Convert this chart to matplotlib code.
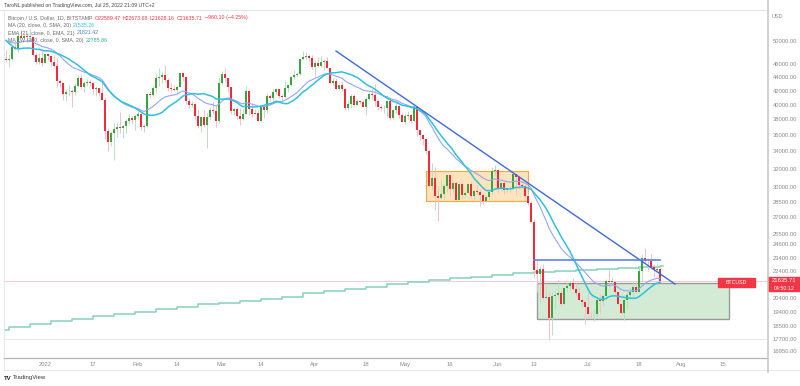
import numpy as np
import pandas as pd
import matplotlib
matplotlib.use("Agg")
import matplotlib.pyplot as plt
from matplotlib.patches import Rectangle
from matplotlib.lines import Line2D

W, H = 800, 386

# closes before the visible range, only used to warm up the averages (19 Nov - 18 Dec 2021)
warmup_close = [58100, 59700, 58700, 56300, 57600, 57200, 58950, 53700, 54750, 57300, 57800, 56950,
                57200, 56500, 53600, 49200, 49400, 50550, 50600, 50500, 47650, 47150, 49400, 50100,
                46750, 48350, 48870, 47650, 46200, 46850]

# daily BTCUSD, 19 Dec 2021 - 25 Jul 2022
close = [
    # Dec
    46700, 46900, 48950, 48600, 50800, 50430, 50800, 50700, 50700, 47540, 46460, 47120, 46210,
    # Jan
    47740, 47300, 46450, 45830, 43430, 43080, 41560, 41730, 41860, 41820, 42740, 43920, 42590, 43100,
    43180, 43110, 42250, 42380, 41690, 40700, 36480, 35080, 36280, 36680, 36970, 36850, 37150, 37720,
    38180, 37920, 38500,
    # Feb
    38740, 36950, 37080, 41570, 41410, 42410, 43840, 44100, 44340, 43570, 42410, 42220, 42060, 42570,
    44580, 43960, 40550, 40000, 40120, 38430, 37070, 38290, 37270, 38330, 39240, 39150, 37710, 43190,
    # Mar
    44420, 43940, 42460, 39140, 39400, 38420, 37990, 38730, 41980, 39440, 38730, 38810, 37790, 39670,
    39280, 41140, 40950, 41800, 42190, 41250, 41080, 42360, 42890, 43960, 44350, 44500, 46820, 47130,
    47430, 47070, 45530,
    # Apr
    46280, 45820, 46400, 46580, 45500, 43170, 43440, 42250, 42750, 42160, 39530, 40090, 41150, 39940,
    40550, 40390, 39700, 40820, 41500, 41370, 40530, 39720, 39460, 39470, 40430, 38110, 39240, 39750,
    38600, 37650,
    # May
    38470, 38530, 37730, 39690, 36550, 36030, 35470, 34060, 30080, 31010, 29080, 28930, 29280, 30100,
    31300, 29850, 30430, 28710, 30310, 29200, 29440, 30290, 29100, 29650, 29540, 29200, 28630, 29020,
    29460, 31730, 31790,
    # Jun
    29800, 30450, 29700, 29860, 29900, 31360, 31130, 30200, 30100, 29090, 28390, 26560, 22490, 22140,
    22580, 20380, 20470, 19000, 20560, 20580, 20720, 19970, 21100, 21230, 21490, 21030, 20740, 20280,
    20100, 19780,
    # Jul
    19300, 19250, 19300, 20230, 20190, 20560, 21630, 21590, 21590, 20840, 19960, 19330, 20230, 20580,
    20830, 21190, 20790, 22430, 23400, 23230, 23160, 22680, 22460, 22589.47, 21635.71,
]
high = [
    48300, 47500, 49300, 49550, 51350, 51800, 51150, 51250, 52050, 50700, 48100, 47900, 48550,
    47900, 47950, 47550, 47500, 47050, 43750, 43150, 42300, 42800, 42250, 43100, 44350, 44450, 43450,
    43800, 43500, 43200, 42700, 42550, 43500, 41100, 36800, 36500, 37500, 37550, 38950, 37250, 38000,
    38700, 38400, 38750,
    39250, 38850, 37400, 41700, 41950, 42650, 44500, 45500, 44800, 45850, 43950, 43050, 42750, 42850,
    44700, 44600, 44200, 40950, 40450, 40150, 39450, 38400, 39200, 38900, 39700, 40300, 39850, 44050,
    44950, 45400, 44100, 42550, 39650, 39650, 39550, 39400, 42600, 42000, 40150, 39450, 39300, 39900,
    39850, 41700, 41450, 42300, 42350, 42300, 41550, 43350, 43000, 44200, 45100, 44800, 46950, 48150,
    48100, 47700, 47600,
    46700, 47200, 47450, 46850, 47150, 45500, 43900, 43950, 42800, 43400, 42400, 40700, 41550, 41500,
    40850, 40700, 40600, 41100, 41750, 42200, 42950, 40800, 39950, 39900, 40600, 40800, 39450, 40350,
    39950, 38800,
    38650, 39150, 38650, 39950, 39800, 36650, 36100, 35500, 34300, 32650, 32150, 30100, 30900, 30300,
    31450, 31300, 30800, 30650, 30550, 30750, 29600, 30450, 30650, 29850, 30200, 29850, 29400, 29200,
    29550, 32200, 32350,
    31950, 30650, 30650, 29950, 30150, 31750, 31550, 31300, 30700, 30350, 29450, 28550, 26850, 23300,
    22800, 22950, 21350, 20800, 20800, 21000, 21700, 20900, 21200, 21500, 21550, 21850, 21500, 21200,
    20400, 20150,
    20850, 19400, 19650, 20300, 20700, 20650, 21800, 22500, 21950, 21600, 20850, 20050, 20300, 20850,
    21200, 21550, 21650, 22700, 23750, 24280, 23400, 23750, 22950, 23000, 22673.68,
]
low = [
    46400, 45600, 46650, 48450, 48100, 50400, 50200, 49950, 50450, 47350, 46100, 46000, 45680,
    46200, 46700, 45700, 45520, 42500, 42450, 40650, 40550, 41250, 39650, 41300, 42450, 42300, 41850,
    42600, 42650, 41550, 41250, 41150, 40600, 35450, 34050, 34650, 32950, 35750, 36250, 35550, 36200,
    37350, 37400, 36650,
    38050, 36600, 36300, 36950, 40950, 41150, 41650, 42700, 43150, 43200, 41950, 41800, 41900, 41600,
    42450, 43350, 40100, 39500, 39650, 38050, 36850, 36400, 37050, 34350, 38050, 38650, 37050, 37500,
    42850, 43350, 41850, 38650, 38600, 38100, 37200, 37900, 38650, 38550, 38250, 38700, 37600, 37600,
    38150, 38900, 40550, 40200, 41500, 40950, 40500, 40900, 41800, 42600, 43650, 44100, 44400, 46650,
    46950, 46550, 45200,
    44250, 45650, 45550, 45150, 45400, 43100, 42750, 42150, 42150, 41900, 39200, 39250, 39550, 39600,
    39800, 40050, 39600, 38550, 40600, 40850, 39800, 39200, 39300, 38900, 38250, 37900, 37850, 38900,
    38200, 37600,
    37400, 38050, 37550, 37700, 35850, 35300, 34800, 33700, 30050, 29750, 27750, 26650, 28750, 28650,
    29500, 29100, 29450, 28650, 28700, 28750, 28950, 29450, 28900, 28700, 29300, 28050, 28300, 28550,
    28800, 29300, 31250,
    29400, 29600, 29300, 29500, 29500, 29900, 29250, 29850, 29950, 28850, 28150, 26550, 21930, 20850,
    20100, 20250, 20300, 17600, 17950, 19650, 20350, 19800, 19900, 20900, 20950, 20950, 20550, 20200,
    19850, 18650,
    19000, 19000, 18800, 19050, 19300, 19800, 20250, 21200, 21350, 20650, 19900, 19250, 18900, 19650,
    20400, 20500, 20750, 20800, 21600, 23050, 22400, 22550, 21950, 22300, 21628.16,
]

# weekly-step 200 MA (week start, value)
week_start = ["2021-12-13", "2021-12-20", "2021-12-27", "2022-01-03", "2022-01-10", "2022-01-17",
              "2022-01-24", "2022-01-31", "2022-02-07", "2022-02-14", "2022-02-21", "2022-02-28",
              "2022-03-07", "2022-03-14", "2022-03-21", "2022-03-28", "2022-04-04", "2022-04-11",
              "2022-04-18", "2022-04-25", "2022-05-02", "2022-05-09", "2022-05-16", "2022-05-23",
              "2022-05-30", "2022-06-06", "2022-06-13", "2022-06-20", "2022-06-27", "2022-07-04",
              "2022-07-11", "2022-07-18", "2022-07-25"]
ma200w = [18230, 18400, 18620, 18790, 18940, 19120, 19280, 19430, 19600, 19780, 19940, 20050,
          20190, 20340, 20480, 20720, 20890, 21055, 21200, 21400, 21550, 21700, 21830, 21950,
          22080, 22210, 22330, 22420, 22510, 22590, 22660, 22720, 22785.86]

y_ticks = [50000, 46000, 44000, 42000, 40000, 38000, 36000, 34000, 32000, 30000, 28500, 27000,
           25500, 24600, 23400, 22400, 20400, 19400, 18500, 17700, 16950]
x_tick_dates = ["2022-01-01", "2022-01-17", "2022-02-01", "2022-02-14", "2022-03-01", "2022-03-14",
                "2022-04-01", "2022-04-18", "2022-05-01", "2022-05-16", "2022-06-01", "2022-06-13",
                "2022-07-01", "2022-07-18", "2022-08-01", "2022-08-15"]
x_tick_labels = ["2022", "17", "Feb", "14", "Mar", "14", "Apr", "18", "May", "16", "Jun", "13",
                 "Jul", "18", "Aug", "15"]

base = np.datetime64("2022-01-01")


def day(d):
    return (np.datetime64(d) - base).astype(int)


def px(x, y):
    return x / W, 1 - y / H


dates = np.arange("2021-12-19", "2022-07-26", dtype="datetime64[D]")
xd = (dates - base).astype(int)
c = np.array(close, float)
hi = np.array(high, float)
lo = np.array(low, float)
o = np.r_[warmup_close[-1], c[:-1]]

full = pd.Series(warmup_close + close)
sma20 = full.rolling(20).mean().values[len(warmup_close):]
ema21 = full.ewm(span=21, adjust=False).mean().values[len(warmup_close):]

plt.rcParams["font.family"] = ["Liberation Sans", "DejaVu Sans"]
fig = plt.figure(figsize=(W / 100, H / 100), dpi=100)
ax = fig.add_axes([4 / W, 1 - 357 / H, 763 / W, 347 / H])
ax.set_yscale("log")
ax.set_ylim(16600, 55607)
ax.set_xlim(-13.67, 240.67)
for s in ax.spines.values():
    s.set_visible(False)

# drawings
ax.add_patch(Rectangle((day("2022-05-08"), 28580), day("2022-06-11") - day("2022-05-08"), 31730 - 28580,
                       facecolor="#ffe3bd", edgecolor="#f3a73f", lw=0.8, zorder=1))
ax.add_patch(Rectangle((day("2022-06-14"), 18950), day("2022-08-17") - day("2022-06-14"), 21510 - 18950,
                       facecolor="#d3ebd4", edgecolor="#9a9a9a", lw=1.0, zorder=1))
ax.axhline(c[-1], color="#f8c9d1", lw=0.7, zorder=1)
ax.axhline(17650, color="#e6e6e6", lw=0.7, zorder=1)

# 200 MA weekly steps
wx = [day(d) for d in week_start] + [day("2022-07-26")]
ax.step(wx, ma200w + [ma200w[-1]], where="post", color="#86d1bd", lw=1.1, zorder=2)

# candles
up = c >= o
ax.vlines(xd[up], lo[up], hi[up], color="#bcdcc3", lw=0.7, zorder=3)
ax.vlines(xd[~up], lo[~up], hi[~up], color="#f6bfc8", lw=0.7, zorder=3)
body = np.maximum(np.abs(c - o), o * 0.003)
ax.bar(xd[up], body[up], bottom=np.minimum(o, c)[up], width=0.7, color="#3aa53e", lw=0, zorder=4)
ax.bar(xd[~up], body[~up], bottom=np.minimum(o, c)[~up], width=0.7, color="#f2293a", lw=0, zorder=4)

ax.plot(xd, ema21, color="#93a6f5", lw=0.8, zorder=5)
ax.plot(xd, sma20, color="#2fc0de", lw=1.1, zorder=5)

ax.plot([day("2022-04-08"), day("2022-07-30")], [48200, 21400], color="#3d68e0", lw=1.0, zorder=6)
ax.plot([day("2022-06-13"), day("2022-07-25")], [23310, 23310], color="#5f82ea", lw=1.2, zorder=6)

# axes
ax.yaxis.tick_right()
ax.set_yticks(y_ticks)
ax.set_yticklabels([f"{v:.2f}" for v in y_ticks])
ax.yaxis.set_minor_locator(matplotlib.ticker.NullLocator())
ax.tick_params(axis="y", length=0, pad=4, labelsize=4.2, labelcolor="#8a8a8a")
ax.set_xticks([day(d) for d in x_tick_dates])
ax.set_xticklabels(x_tick_labels)
ax.tick_params(axis="x", length=0, pad=3.5, labelsize=4.2, labelcolor="#8a8a8a")

# frame lines
fig.add_artist(Line2D([px(0, 10)[0], px(767, 10)[0]], [px(0, 10)[1]] * 2, color="#e2e2e2", lw=0.7))
fig.add_artist(Line2D([px(4, 0)[0]] * 2, [px(0, 10)[1], px(0, 370)[1]], color="#e6e6e6", lw=0.7))
fig.add_artist(Line2D([px(4, 0)[0], px(767, 0)[0]], [px(0, 357.5)[1]] * 2, color="#b4b4b4", lw=0.9))
fig.add_artist(Line2D([px(4, 0)[0], px(800, 0)[0]], [px(0, 370)[1]] * 2, color="#e6e6e6", lw=0.7))
fig.add_artist(Line2D([px(767.5, 0)[0]] * 2, [px(0, 0)[1], px(0, 372)[1]], color="#c4c4c4", lw=1.1))

# last price labels
fig.add_artist(Rectangle(px(718, 287), 37 / W, 9 / H, transform=fig.transFigure, color="#f23645"))
fig.text(*px(736.5, 282.5), "BTCUSD", color="white", fontsize=3.8, ha="center", va="center")
fig.add_artist(Rectangle(px(768, 291), 32 / W, 14 / H, transform=fig.transFigure, color="#f23645"))
fig.text(*px(784, 281), f"{c[-1]:.2f}", color="white", fontsize=4.2, ha="center", va="center")
fig.text(*px(784, 288), "04:50:12", color="white", fontsize=3.8, ha="center", va="center")
fig.text(*px(772, 17), "USD", color="#8a8a8a", fontsize=4.0, ha="left", va="center")

# header, pieces laid out one after another
gray = "#6a6a6a"
red = "#f23645"
fs = 3.8
renderer = fig.canvas.get_renderer()


def row(y, pieces, x0=8, gap=2.0):
    x = x0
    for s, col in pieces:
        t = fig.text(*px(x, y), s, color=col, fontsize=fs, va="center")
        x += t.get_window_extent(renderer).width + gap


fig.text(*px(4, 6), "TaroNL published on TradingView.com, Jul 25, 2022 21:09 UTC+2", color="#444",
         fontsize=3.7, ha="left", va="center")
row(18, [("Bitcoin / U.S. Dollar, 1D, BITSTAMP", gray), ("O22589.47", red), ("H22673.68", red),
         ("L21628.16", red), ("C21635.71", red), ("\u2212960.10 (\u22124.25%)", red)])
row(25.5, [("MA (20, close, 0, SMA, 20)", gray), (f"{sma20[-1]:.2f}", "#2fc0de")])
row(33, [("EMA (21, close, 0, EMA, 21)", gray), (f"{ema21[-1]:.2f}", "#4a78ec")])
row(40.5, [("MA 1W (200, close, 0, SMA, 20)", gray), (f"{ma200w[-1]:.2f}", "#2fae8c")])

fig.text(*px(4, 378), "TV", color="#222", fontsize=4.3, fontweight="bold", va="center")
fig.text(*px(13, 378), "TradingView", color="#333", fontsize=4.3, va="center")

fig.savefig("out.png", dpi=100, facecolor="white")
